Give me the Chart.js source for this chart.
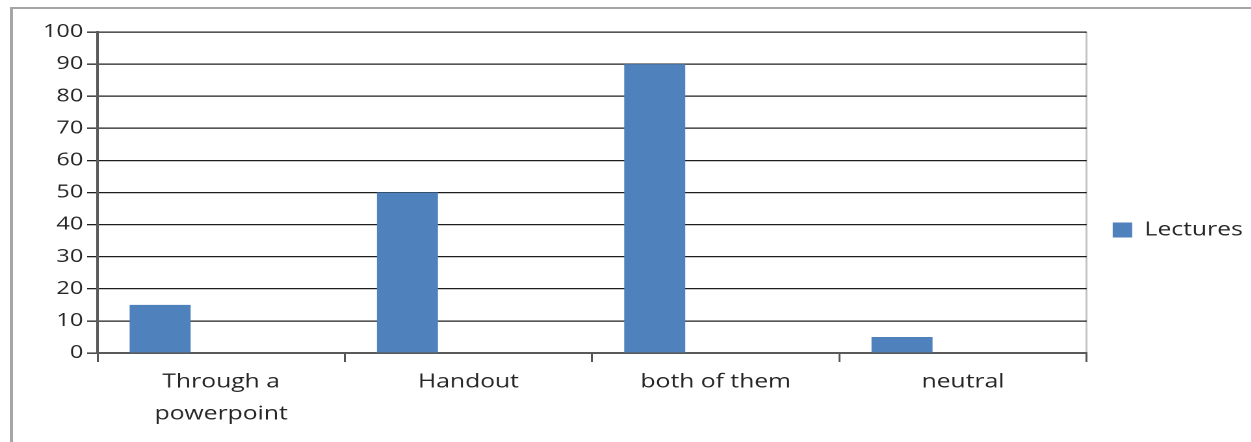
<!DOCTYPE html>
<html>
<head>
<meta charset="utf-8">
<script src="https://cdn.jsdelivr.net/npm/chart.js@4.4.0/dist/chart.umd.min.js"></script>
<style>
  html, body { margin: 0; padding: 0; background: #fff; overflow: hidden; }
  #frame { position: absolute; left: 10px; top: 7px; width: 1300px; height: 500px;
           border-left: 3px solid #a6a6a6; border-top: 2px solid #a6a6a6; }
  /* the original picture is stretched sideways, so the chart is too */
  #wrap { position: absolute; left: 0; top: 0; width: 962px; height: 442px;
          transform: scaleX(1.3); transform-origin: 0 0; }
</style>
</head>
<body>
<div id="frame"></div>
<div id="wrap"><canvas id="barChart" width="962" height="442"></canvas></div>
<script>
var categories = [["Through a", "powerpoint"], "Handout", "both of them", "neutral"];
var lectures = [15, 50, 90, 5];
var emptySeries = [null, null, null, null];
var seriesName = "Lectures";

var textColor = "#262626";

//nudge the legend a bit right and up, like the excel one
var legendShift = {
  id: "legendShift",
  afterLayout: function (chart) {
    var lg = chart.legend;
    if (!lg) return;
    lg.left += 10; lg.right += 10;
    lg.top -= 7; lg.bottom -= 7;
  }
};

var ctx = document.getElementById("barChart").getContext("2d");
var barChart = new Chart(ctx, {
  type: "bar",
  data: {
    labels: categories,
    datasets: [
      {
        label: seriesName,
        data: lectures,
        backgroundColor: "#4f81bd",
        borderWidth: 0,
        //Excel left room for a second (empty) series in each group
        categoryPercentage: 0.987,
        barPercentage: 0.5
      },
      {
        label: "",
        data: emptySeries,
        backgroundColor: "rgba(0,0,0,0)",
        categoryPercentage: 0.987,
        barPercentage: 0.5
      }
    ]
  },
  plugins: [legendShift],
  options: {
    responsive: false,
    animation: false,
    devicePixelRatio: 2,
    layout: { padding: { top: 32, right: 6, bottom: 0, left: 0 } },
    plugins: {
      tooltip: { enabled: false },
      legend: {
        position: "right",
        labels: {
          boxWidth: 15,
          boxHeight: 15,
          padding: 10,
          color: textColor,
          font: { family: "Open Sans", size: 19 },
          filter: function (item) { return item.datasetIndex === 0; }
        }
      }
    },
    scales: {
      x: {
        afterFit: function (scale) { scale.height = 89; },
        grid: {
          offset: true,
          drawOnChartArea: true,
          color: function (c) { return c.type === "scale" ? "#c4c4c4" : "rgba(0,0,0,0)"; },
          tickColor: "#555",
          tickLength: 9,
          lineWidth: 1.5
        },
        border: { color: "#5a5a5a", width: 2 },
        ticks: {
          color: textColor,
          padding: 4,
          maxRotation: 0,
          autoSkip: false,
          font: { family: "Open Sans", size: 19, lineHeight: 1.68 }
        }
      },
      y: {
        min: 0,
        max: 100,
        afterFit: function (scale) { scale.width = 75; },
        grid: {
          color: "#1e1e1e",
          tickColor: "#1e1e1e",
          tickLength: 8,
          lineWidth: 1.3
        },
        border: { color: "#5a5a5a", width: 2 },
        ticks: {
          stepSize: 10,
          color: textColor,
          padding: 3,
          font: { family: "Open Sans", size: 18 }
        }
      }
    }
  }
});
</script>
</body>
</html>
